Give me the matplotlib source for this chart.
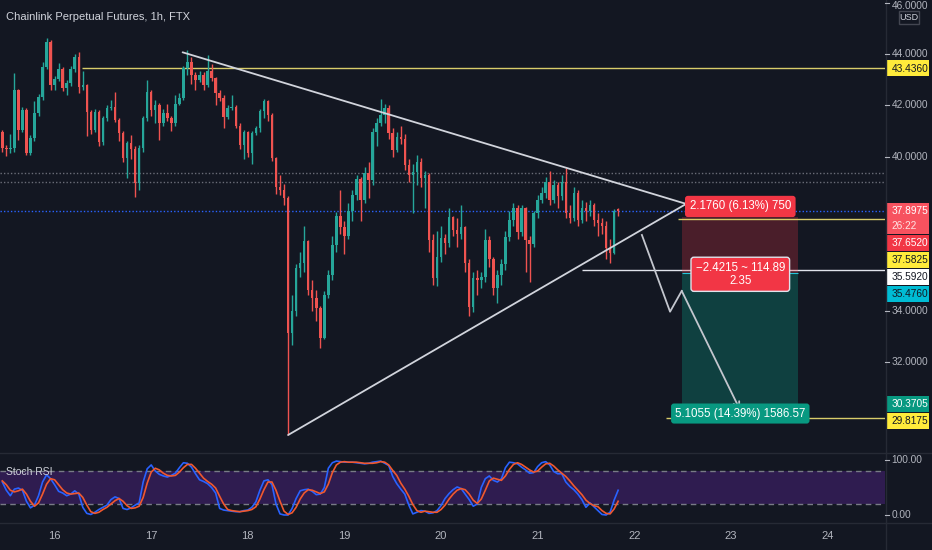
import matplotlib
matplotlib.use('Agg')
import matplotlib.pyplot as plt
from matplotlib.patches import Rectangle
import numpy as np

plt.rcParams['font.family'] = ['Liberation Sans', 'DejaVu Sans']

BG = '#131722'; UP = '#26a69a'; DN = '#ef5350'; AXT = '#b2b5be'; SEP = '#262a35'
YEL = '#ffeb3b'; DARK = '#131722'

# ---------------- data ----------------
title = 'Chainlink Perpetual Futures, 1h, FTX'
day_labels = ['16', '17', '18', '19', '20', '21', '22', '23', '24']
first_day_bar = 13      # bar index of day 16 00:00 (first bar = 15th, 11:00)
bars_per_day = 24

first_open = 40.96
close = [40.34, 40.30, 40.34, 42.60, 41.04, 41.80, 40.14, 40.73, 41.70, 42.32,
         43.49, 44.47, 42.79, 43.03, 43.42, 42.68, 42.87, 43.42, 43.88, 42.71,
         42.79, 41.74, 41.04, 41.74, 40.57, 41.51, 41.90, 41.94, 41.43, 40.92,
         39.95, 40.53, 40.30, 38.97, 40.34, 41.51, 42.52, 41.82, 42.01, 41.30,
         41.70, 41.50, 41.30, 42.05, 42.30, 43.45, 43.70, 43.18, 43.00, 43.20,
         42.80, 43.34, 43.06, 42.48, 42.30, 41.55, 41.90, 41.95, 41.20, 40.45,
         40.96, 40.14, 40.92, 41.10, 41.78, 42.17, 41.63, 39.95, 38.82, 38.70,
         38.40, 33.13, 34.00, 35.66, 35.85, 36.70, 34.80, 34.50, 34.10, 32.94,
         34.60, 35.40, 36.55, 37.70, 37.26, 36.90, 37.90, 38.50, 39.13, 38.30,
         39.36, 39.10, 40.96, 41.30, 41.62, 41.90, 40.92, 40.26, 40.77, 40.70,
         39.68, 39.30, 39.40, 39.80, 39.17, 39.30, 36.75, 35.27, 36.10, 36.83,
         36.64, 37.65, 37.14, 37.00, 37.25, 35.86, 34.15, 35.27, 35.20, 35.30,
         36.75, 36.00, 34.90, 35.40, 35.80, 36.87, 37.53, 38.00, 37.07, 38.00,
         36.76, 36.60, 37.80, 38.30, 38.60, 39.00, 38.30, 38.90, 38.45, 39.00,
         37.80, 37.60, 38.60, 37.53, 38.00, 37.90, 38.10, 37.53, 37.40, 37.30,
         36.45, 36.25, 37.90, 37.8975]
high = [41.05, 40.45, 40.90, 43.26, 42.65, 41.95, 41.90, 40.85, 42.17, 42.45,
        43.70, 44.62, 44.55, 43.15, 43.65, 43.50, 43.00, 43.55, 44.00, 44.08,
        43.35, 42.85, 41.80, 41.85, 41.80, 41.60, 42.00, 42.20, 42.52, 41.50,
        41.00, 40.60, 40.85, 40.40, 40.45, 41.60, 43.00, 42.60, 42.20, 42.10,
        41.85, 42.05, 41.60, 42.40, 42.50, 43.55, 44.16, 43.88, 43.30, 43.35,
        43.30, 43.95, 43.60, 43.10, 42.60, 42.40, 42.00, 42.40, 42.00, 41.30,
        41.05, 41.00, 41.00, 41.20, 41.85, 42.25, 42.20, 41.70, 40.00, 39.30,
        38.95, 38.45, 34.60, 35.80, 36.30, 37.30, 36.75, 35.20, 34.80, 34.20,
        34.75, 35.60, 36.90, 37.85, 38.70, 37.50, 38.20, 38.70, 39.30, 39.20,
        39.60, 39.80, 41.10, 41.50, 42.25, 42.05, 42.00, 41.10, 40.95, 41.20,
        40.90, 39.90, 39.70, 40.05, 39.95, 39.45, 39.35, 37.00, 37.10, 37.30,
        37.00, 38.00, 37.70, 37.60, 38.10, 37.30, 36.00, 35.50, 35.60, 35.50,
        37.20, 36.90, 36.10, 35.60, 36.00, 37.10, 37.90, 38.20, 38.10, 38.10,
        38.05, 36.90, 37.90, 38.50, 38.80, 39.20, 39.45, 39.10, 39.00, 39.30,
        39.55, 38.10, 38.80, 38.70, 38.30, 38.25, 38.30, 38.20, 37.80, 37.60,
        37.50, 36.80, 37.95, 38.00]
low = [40.20, 40.03, 40.15, 40.20, 40.65, 40.95, 40.05, 40.05, 40.60, 41.60,
       42.20, 43.40, 42.60, 42.60, 42.95, 42.55, 42.40, 42.75, 43.30, 42.50,
       42.60, 40.81, 40.90, 40.95, 40.40, 40.45, 41.40, 41.80, 41.35, 40.60,
       39.80, 39.17, 39.90, 38.43, 38.70, 40.20, 41.40, 41.60, 41.30, 40.65,
       41.20, 41.40, 41.00, 41.20, 42.00, 42.20, 43.20, 42.85, 42.60, 42.90,
       42.60, 42.70, 42.95, 42.00, 42.15, 41.10, 41.45, 41.80, 41.10, 40.30,
       39.90, 40.00, 39.70, 40.85, 40.95, 41.50, 41.40, 39.85, 38.55, 38.50,
       38.10, 29.16, 32.65, 33.80, 35.30, 35.50, 34.60, 34.00, 33.60, 32.55,
       32.90, 34.50, 35.20, 36.30, 37.00, 36.20, 36.80, 37.50, 38.30, 37.50,
       38.20, 38.40, 38.90, 40.40, 41.20, 41.30, 40.70, 40.00, 40.20, 40.50,
       39.50, 39.00, 37.80, 38.90, 38.80, 38.00, 36.30, 35.00, 34.95, 35.90,
       36.20, 36.50, 36.90, 36.50, 36.80, 35.50, 33.80, 33.95, 34.60, 34.90,
       35.10, 35.70, 34.60, 34.30, 35.00, 35.60, 36.70, 37.30, 36.80, 36.90,
       35.50, 35.10, 36.50, 37.60, 38.20, 38.40, 38.10, 38.20, 38.00, 38.30,
       37.60, 37.40, 37.50, 37.30, 37.40, 37.50, 37.70, 37.30, 36.90, 37.00,
       36.00, 35.85, 36.20, 37.70]
stoch_k = [60, 45, 35, 47, 49, 45, 25, 13, 18, 35,
           60, 73, 66, 55, 43, 40, 35, 38, 44, 38,
           14, 3, 1, 5, 10, 14, 18, 28, 33, 30,
           12, 10, 13, 18, 22, 60, 84, 91, 80, 74,
           71, 69, 72, 76, 86, 95, 94, 87, 75, 64,
           61, 57, 50, 40, 12, 9, 8, 7, 6, 6,
           8, 9, 14, 24, 45, 62, 64, 55, 20, 2,
           0, 0, 12, 30, 44, 46, 47, 43, 37, 38,
           50, 85, 95, 98, 97, 96, 96, 96, 95, 94,
           93, 94, 96, 97, 98, 94, 90, 70, 57, 47,
           38, 18, 2, 5, 8, 7, 3, 4, 8, 17,
           30, 39, 46, 51, 48, 38, 28, 16, 20, 50,
           66, 71, 63, 60, 66, 86, 96, 95, 93, 87,
           82, 76, 77, 88, 95, 97, 91, 79, 75, 75,
           60, 52, 46, 38, 28, 14, 22, 15, 8, 1,
           0, 5, 27, 45]
stoch_d = [62, 55, 45, 42, 44, 47, 38, 25, 16, 22,
           38, 56, 66, 64, 55, 46, 40, 38, 39, 40,
           32, 18, 6, 3, 5, 10, 14, 20, 26, 30,
           25, 17, 12, 13, 16, 32, 58, 78, 85, 82,
           76, 72, 71, 72, 78, 86, 92, 92, 85, 76,
           67, 61, 56, 49, 34, 20, 10, 8, 7, 6,
           7, 8, 10, 15, 29, 46, 60, 60, 45, 25,
           7, 1, 4, 14, 29, 40, 46, 45, 42, 39,
           42, 56, 77, 91, 96, 97, 96, 96, 96, 95,
           94, 94, 94, 95, 97, 96, 91, 81, 72, 58,
           47, 34, 19, 8, 5, 7, 6, 5, 5, 10,
           18, 29, 38, 45, 48, 46, 38, 27, 21, 29,
           45, 62, 67, 65, 63, 71, 83, 92, 95, 92,
           87, 82, 78, 80, 87, 93, 94, 89, 82, 76,
           70, 62, 53, 45, 37, 27, 21, 17, 15, 8,
           3, 2, 11, 25]

price_ticks = [46, 44, 42, 40, 38, 36, 34, 32, 30]
rsi_ticks = [100, 0]
rsi_bands = [80, 20]

# drawings (time in bar index, price in USD)
resistance, resistance_start = 43.436, 19.8
trend_upper_t, trend_upper_p = [44.8, 169.9], [44.066, 38.16]
trend_lower_t, trend_lower_p = [71.0, 169.9], [29.156, 38.16]
dotted_levels = [39.38, 39.03]
last_price, countdown = 37.8975, '26:22'
white_level, white_start = 35.592, 144.0
yellow_level, yellow_start = 37.5825, 167.9
yellow_level2, yellow2_start = 29.8175, 164.9
pos_start, pos_end = 168.9, 197.8
stop, entry, target = 37.652, 35.476, 30.3705
risk_text = '2.1760 (6.13%) 750'
mid_text = '\u22122.4215 ~ 114.89\n2.35'
reward_text = '5.1055 (14.39%) 1586.57'
path_t = [158.9, 165.9, 168.8, 183.3]
path_p = [36.95, 33.96, 34.77, 30.13]

# ---------------- figure ----------------
W, H = 932, 550
PLOT_R = 885
fig = plt.figure(figsize=(W / 100, H / 100), dpi=100, facecolor=BG)
ax = fig.add_axes([0, 1 - 452 / H, PLOT_R / W, 452 / H])
ax2 = fig.add_axes([0, 1 - 522 / H, PLOT_R / W, 69 / H])
XL = (-0.57, 219.3)
for a in (ax, ax2):
    a.set_facecolor(BG)
    a.set_xticks([]); a.set_yticks([])
    for s in a.spines.values():
        s.set_visible(False)
    a.set_xlim(*XL)
ax.set_ylim(28.494, 46.104)
ax2.set_ylim(-12.7, 112.7)

# candles
n = len(close)
idx = np.arange(n)
c = np.array(close, dtype=float)
o = np.concatenate([[first_open], c[:-1]])
hi = np.maximum(np.array(high, dtype=float), np.maximum(o, c))
lo = np.minimum(np.array(low, dtype=float), np.minimum(o, c))
cols = np.where(c >= o, UP, DN)
ax.vlines(idx, lo, hi, colors=cols, lw=1, zorder=3)
ax.bar(idx, np.maximum(np.abs(c - o), 0.045), bottom=np.minimum(o, c), width=0.62,
       color=cols, linewidth=0, zorder=4)

# horizontal levels
for lv in dotted_levels:
    ax.axhline(lv, color='#6a6d78', lw=1, ls=(0, (1, 1.5)), zorder=2)
ax.axhline(last_price, color='#2962ff', lw=1, ls=(0, (1, 1.5)), zorder=2)
ax.hlines(resistance, resistance_start, XL[1], color='#d8cc6a', lw=1, zorder=2)
ax.hlines(white_level, white_start, XL[1], color='#e0e3eb', lw=1, zorder=2)
ax.hlines(yellow_level, yellow_start, XL[1], color='#d8cc6a', lw=1, zorder=6)
ax.hlines(yellow_level2, yellow2_start, XL[1], color='#d8cc6a', lw=1, zorder=6)

# triangle trendlines
ax.plot(trend_upper_t, trend_upper_p, color='#d1d4dc', lw=1.3, zorder=5,
        solid_capstyle='round')
ax.plot(trend_lower_t, trend_lower_p, color='#d1d4dc', lw=1.3, zorder=5,
        solid_capstyle='round')

# position tool
ax.add_patch(Rectangle((pos_start, entry), pos_end - pos_start, stop - entry,
                       facecolor='#f23645', alpha=0.25, lw=0, zorder=2))
ax.add_patch(Rectangle((pos_start, target), pos_end - pos_start, entry - target,
                       facecolor='#089981', alpha=0.32, lw=0, zorder=2))
ax.hlines(entry, pos_start, pos_end, color='#26c6da', lw=0.8, zorder=3)
pc = (pos_start + pos_end) / 2
LFS = 8.3
ax.annotate(risk_text, xy=(pc, stop), xytext=(0, 10.5), textcoords='offset pixels',
            ha='center', va='center', fontsize=LFS, color='white', zorder=8,
            bbox=dict(boxstyle='round,pad=0.4,rounding_size=0.25', fc='#f23645', ec='none'))
ax.annotate(mid_text, xy=(pc, entry), xytext=(0, -1.5), textcoords='offset pixels',
            ha='center', va='center', fontsize=LFS, color='white', zorder=8,
            multialignment='center', linespacing=1.1,
            bbox=dict(boxstyle='round,pad=0.4,rounding_size=0.25', fc='#f23645',
                      ec='#e0e3eb', lw=1))
ax.annotate(reward_text, xy=(pc, target), xytext=(0, -9.7), textcoords='offset pixels',
            ha='center', va='center', fontsize=LFS, color='white', zorder=8,
            bbox=dict(boxstyle='round,pad=0.35,rounding_size=0.25', fc='#089981', ec='none'))

# projected path
PATHC = '#c3c6ce'
ax.plot(path_t[:3], path_p[:3], color=PATHC, lw=1.3, zorder=7)
ax.annotate('', xy=(path_t[3], path_p[3]), xytext=(path_t[2], path_p[2]),
            arrowprops=dict(arrowstyle='->,head_length=0.45,head_width=0.22',
                            color=PATHC, lw=1.3, shrinkA=0, shrinkB=0), zorder=7)

# Stoch RSI panel
ax2.axhspan(rsi_bands[1], rsi_bands[0], color='#2f1c50', lw=0, zorder=1)
for b in rsi_bands:
    ax2.axhline(b, color='#787b86', lw=1, ls=(0, (4, 3)), zorder=2)
ax2.plot(idx, stoch_k, color='#2962ff', lw=1.2, zorder=3)
ax2.plot(idx, stoch_d, color='#f0582f', lw=1.2, zorder=4)

# ---------------- overlay (axis labels, separators) ----------------
ov = fig.add_axes([0, 0, 1, 1], zorder=10)
ov.set_xlim(0, W); ov.set_ylim(H, 0); ov.axis('off')
ov.patch.set_alpha(0)


def py(a, v):
    return H - a.transData.transform((0, v))[1]


def px(a, t):
    return a.transData.transform((t, 0))[0]


ov.plot([0, W], [452.5, 452.5], color=SEP, lw=1)
ov.plot([0, W], [522.5, 522.5], color=SEP, lw=1)
ov.plot([PLOT_R + 0.5, PLOT_R + 0.5], [0, H], color=SEP, lw=1)

FS = 7.3
boxes = [(resistance, '%.4f' % resistance, YEL, DARK),
         (last_price, '%.4f' % last_price, '#f7525f', 'white'),
         (stop, '%.4f' % stop, '#f23645', 'white'),
         (yellow_level, '%.4f' % yellow_level, YEL, DARK),
         (white_level, '%.4f' % white_level, '#ffffff', DARK),
         (entry, '%.4f' % entry, '#00bcd4', DARK),
         (target, '%.4f' % target, '#089981', 'white'),
         (yellow_level2, '%.4f' % yellow_level2, YEL, DARK)]
occupied = []
prev_bottom = -1e9
for price, txt, fc, tc in sorted(boxes, key=lambda b: -b[0]):
    two = price == last_price
    h = 31 if two else 16
    top = py(ax, price) - 8
    if top < prev_bottom + 1:
        top = prev_bottom + 1
    ov.add_patch(Rectangle((PLOT_R + 0.5, top), 43, h, facecolor=fc, lw=0))
    ov.text(891.5, top + 8.3, txt, color=tc, fontsize=FS, va='center', ha='left')
    if two:
        ov.text(891.5, top + 23, countdown, color='#ffe3e3', fontsize=FS, va='center', ha='left')
    occupied.append((top, top + h))
    prev_bottom = top + h

for t in price_ticks:
    y = py(ax, t)
    if any(a0 - 4 < y < b0 + 4 for a0, b0 in occupied):
        continue
    ty = max(y, 6.0)   # keep the top-most tick label just inside the frame
    ov.text(891.5, ty, '%.4f' % t, color=AXT, fontsize=FS, va='center', ha='left')
    ov.plot([PLOT_R, PLOT_R + 4], [y, y], color=AXT, lw=0.8)

# USD badge
ov.add_patch(Rectangle((898.5, 11), 20, 13, facecolor=BG, edgecolor='#434651', lw=1))
ov.text(908.5, 17.8, 'USD', color='#d1d4dc', fontsize=6.5, ha='center', va='center')

for t in rsi_ticks:
    y = py(ax2, t)
    ov.text(891.5, y, '%.2f' % t, color=AXT, fontsize=FS, va='center', ha='left')
    ov.plot([PLOT_R, PLOT_R + 4], [y, y], color=AXT, lw=0.8)

for k, lab in enumerate(day_labels):
    x = px(ax, first_day_bar + bars_per_day * k)
    ov.text(x, 536, lab, color=AXT, fontsize=8, ha='center', va='center')

ov.text(6, 17, title, color='#d1d4dc', fontsize=8, ha='left', va='center')
ov.text(6, 472, 'Stoch RSI', color='#d1d4dc', fontsize=7.5, ha='left', va='center')

fig.savefig('out.png', dpi=100, facecolor=BG)
